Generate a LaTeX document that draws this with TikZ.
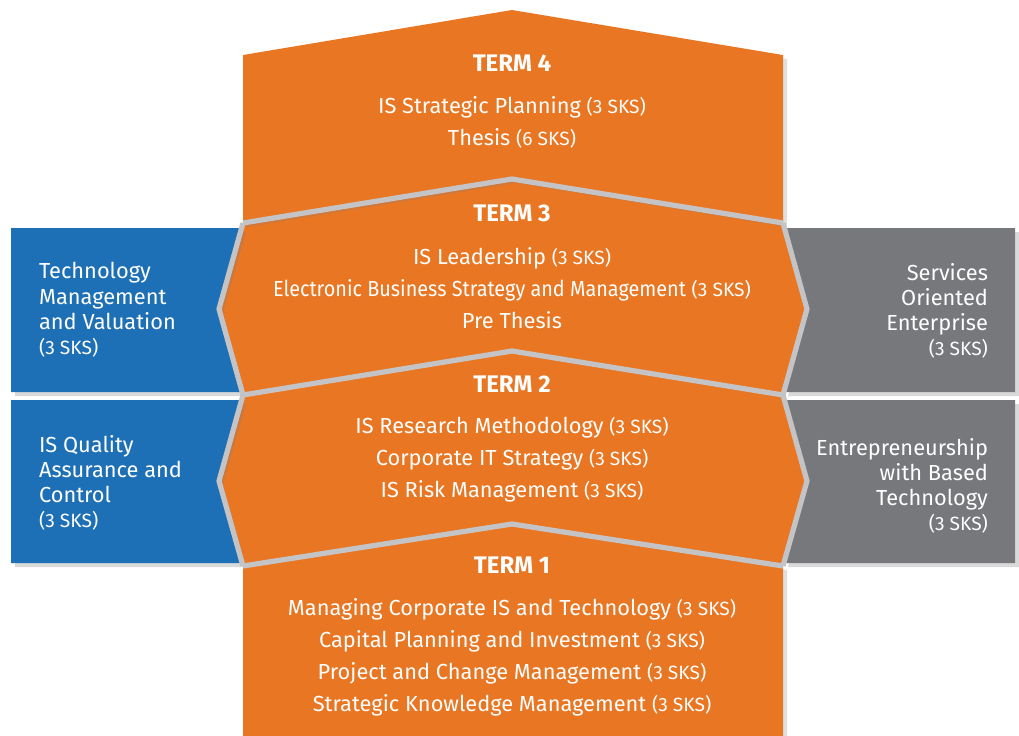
\documentclass[tikz,border=0pt]{standalone}
\usepackage{fontspec}
\setmainfont{Fira Sans}
\newfontfamily\narrowfont[FakeStretch=0.91]{Fira Sans}
\usepackage{tikz}
\usetikzlibrary{shadows}
\definecolor{termorange}{RGB}{233,118,35}
\definecolor{electblue}{RGB}{30,112,182}
\definecolor{electgray}{RGB}{119,120,124}
\definecolor{sepgray}{RGB}{196,196,198}
\newcommand{\sks}[1]{{\fontsize{9.6pt}{10pt}\selectfont(#1~SKS)}}

\begin{document}
\begin{tikzpicture}[x=0.5pt, y=-0.5pt,
  term/.style={fill=termorange},
  elective/.style={drop shadow={shadow xshift=2pt, shadow yshift=-2pt, opacity=0.3}},
  separator/.style={draw=sepgray, line width=2.6pt, line join=miter},
  termtitle/.style={text=white, font=\fontsize{12pt}{13pt}\selectfont\bfseries},
  courses/.style={text=white, align=center, font=\fontsize{10.9pt}{16pt}\selectfont},
  electtext/.style={text=white, font=\fontsize{10.9pt}{12.6pt}\selectfont}]
\useasboundingbox (0,0) rectangle (1019,735);
\fill[term, drop shadow={shadow xshift=2pt, shadow yshift=-2pt, opacity=0.25}] (243,566) -- (512,524) -- (783,566) -- (783,740) -- (243,740) -- cycle;
\fill[term] (243,395) -- (512,351) -- (783,395) -- (807,481) -- (783,566) -- (512,524) -- (243,566) -- (219,481) -- cycle;
\fill[term] (243,223) -- (512,179) -- (783,223) -- (807,309) -- (783,395) -- (512,351) -- (243,395) -- (219,309) -- cycle;
\fill[term, drop shadow={shadow xshift=2pt, shadow yshift=-2pt, opacity=0.25}] (243,55) -- (512,10) -- (783,55) -- (783,223) -- (512,179) -- (243,223) -- cycle;
\fill[electblue, elective] (11,228) -- (242,228) -- (219,309) -- (242,392) -- (11,392) -- cycle;
\fill[electblue, elective] (11,400) -- (242,400) -- (219,481) -- (242,563) -- (11,563) -- cycle;
\fill[electgray, elective] (1015,228) -- (784,228) -- (807,309) -- (784,392) -- (1015,392) -- cycle;
\fill[electgray, elective] (1015,400) -- (784,400) -- (807,481) -- (784,563) -- (1015,563) -- cycle;
\draw[separator] (243,223) -- (512,179) -- (783,223);
\draw[separator] (243,395) -- (512,351) -- (783,395);
\draw[separator] (243,566) -- (512,524) -- (783,566);
\draw[separator] (243,223) -- (219,309) -- (243,395) -- (219,481) -- (243,566);
\draw[separator] (783,223) -- (807,309) -- (783,395) -- (807,481) -- (783,566);
\node[termtitle] (term4) at (512,63) {TERM 4};
\node[courses] (term4list) at (512,122) {IS Strategic Planning \sks{3}\\ Thesis \sks{6}};
\node[termtitle] (term3) at (512,213) {TERM 3};
\node[courses] (term3list) at (512,288) {IS Leadership \sks{3}\\ {\narrowfont Electronic Business Strategy and Management} \sks{3}\\ Pre Thesis};
\node[termtitle] (term2) at (512,384) {TERM 2};
\node[courses] (term2list) at (512,460) {IS Research Methodology \sks{3}\\ Corporate IT Strategy \sks{3}\\ IS Risk Management \sks{3}};
\node[termtitle] (term1) at (512,565) {TERM 1};
\node[courses] (term1list) at (512,657) {Managing Corporate IS and Technology \sks{3}\\ Capital Planning and Investment \sks{3}\\ Project and Change Management \sks{3}\\ Strategic Knowledge Management \sks{3}};
\node[electtext, align=left, anchor=west] (techmgmt) at (32,310) {Technology\\ Management\\ and Valuation\\ \sks{3}};
\node[electtext, align=left, anchor=west] (quality) at (32,483) {IS Quality\\ Assurance and\\ Control\\ \sks{3}};
\node[electtext, align=right, anchor=east] (soe) at (995,311) {Services\\ Oriented\\ Enterprise\\ \sks{3}};
\node[electtext, align=right, anchor=east] (entrepreneur) at (995,486) {Entrepreneurship\\ with Based\\ Technology\\ \sks{3}};
\end{tikzpicture}
\end{document}
